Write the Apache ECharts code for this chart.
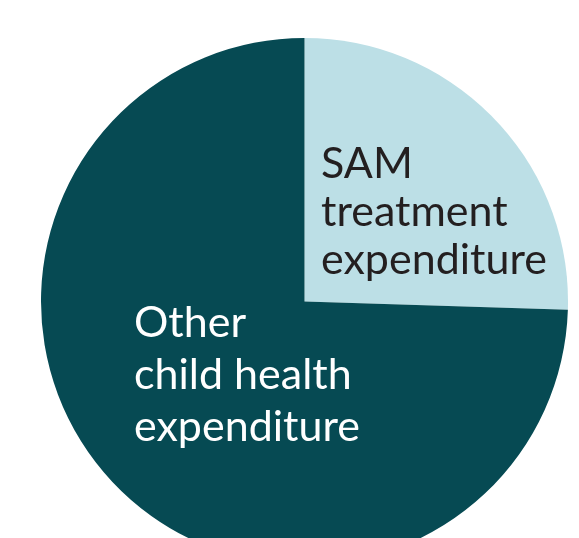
<!DOCTYPE html>
<html><head><meta charset="utf-8">
<script src="https://cdn.jsdelivr.net/npm/echarts@6/dist/echarts.min.js"></script>
<style>html,body{margin:0;padding:0;background:#fff}#c{width:579px;height:538px}</style>
</head><body><div id="c"></div>
<script>
const categories = ["SAM\ntreatment\nexpenditure", "Other\nchild health\nexpenditure"];
const values = [25.5, 74.5];
const colors = ["#bcdfe6", "#064a53"];
const labelColors = ["#231f20", "#ffffff"];
const labelPos = [[321, 140], [134, 297]];
const labelLineHeights = [48, 52];

const chart = echarts.init(document.getElementById('c'), null, {renderer: 'canvas'});
chart.setOption({
  animation: false,
  series: [{
    type: 'pie',
    center: [304.5, 301.5],
    radius: 263.5,
    startAngle: 90,
    clockwise: true,
    silent: true,
    data: categories.map((n, i) => ({
      name: n, value: values[i],
      itemStyle: {color: colors[i]},
      label: {color: labelColors[i], lineHeight: labelLineHeights[i]}
    })),
    label: {
      show: true, position: 'inside', formatter: '{b}',
      fontFamily: 'Lato', fontSize: 43, align: 'left'
    },
    labelLine: {show: false},
    labelLayout: function (p) {
      return {x: labelPos[p.dataIndex][0], y: labelPos[p.dataIndex][1], align: 'left', verticalAlign: 'top'};
    }
  }]
});
</script></body></html>
